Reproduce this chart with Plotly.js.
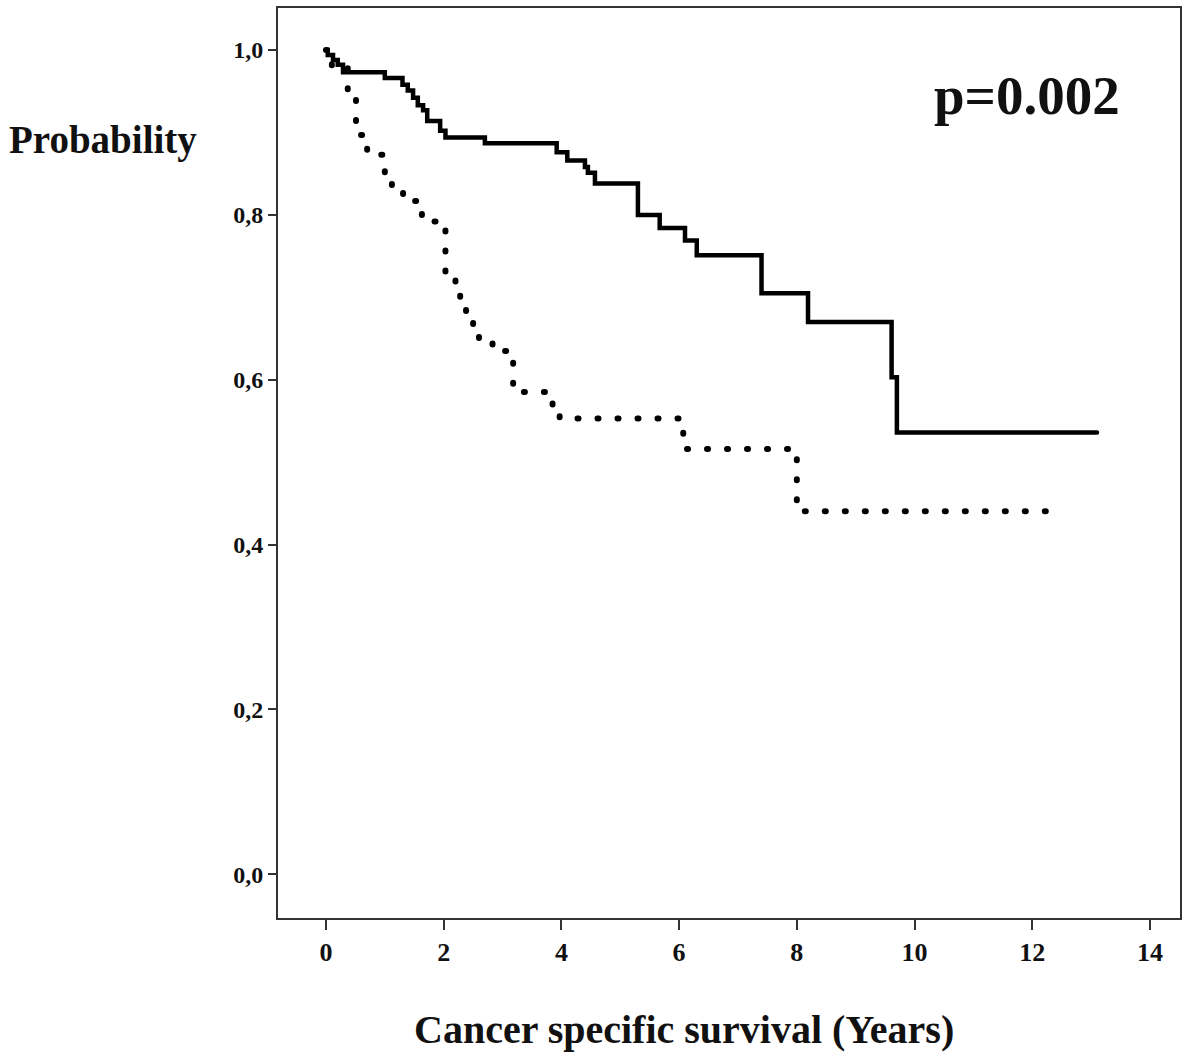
<!DOCTYPE html>
<html>
<head>
<meta charset="utf-8">
<script src="https://cdn.plot.ly/plotly-3.0.1.min.js"></script>
<style>
  html, body { margin: 0; padding: 0; background: #fff; }
  #chart { width: 1200px; height: 1058px; }
  path.js-line { stroke-linecap: round !important; }
</style>
</head>
<body>
<div id="chart"></div>
<script>
// Kaplan-Meier step data (time in years, survival probability)
const solidTime = [0, 0.03, 0.12, 0.2, 0.29, 1.0, 1.3, 1.39, 1.48, 1.56, 1.65, 1.72, 1.94, 2.03, 2.7, 3.92, 4.1, 4.4, 4.45, 4.57, 5.3, 5.67, 6.1, 6.3, 7.4, 8.19, 9.61, 9.70, 13.1];
const solidSurv = [1.0, 0.994, 0.988, 0.982, 0.973, 0.966, 0.958, 0.951, 0.942, 0.933, 0.927, 0.914, 0.902, 0.894, 0.887, 0.876, 0.866, 0.858, 0.851, 0.838, 0.800, 0.784, 0.769, 0.751, 0.705, 0.670, 0.603, 0.536, 0.536];

const dotTime = [0, 0.1, 0.37, 0.51, 0.7, 1.0, 1.12, 1.31, 1.63, 2.03, 2.2, 2.28, 2.38, 2.5, 2.6, 2.83, 3.18, 3.85, 3.97, 6.07, 8.0, 12.25];
const dotSurv = [1.0, 0.978, 0.949, 0.897, 0.873, 0.846, 0.830, 0.817, 0.792, 0.721, 0.705, 0.690, 0.675, 0.660, 0.645, 0.635, 0.585, 0.567, 0.553, 0.516, 0.4405, 0.4405];

const xTicks = [0, 2, 4, 6, 8, 10, 12, 14];
const yTicks = [0, 0.2, 0.4, 0.6, 0.8, 1.0];

const xTitle = 'Cancer specific survival (Years)';
const yTitle = 'Probability';
const pText = 'p=0.002';

const serif = 'Liberation Serif, Times New Roman, serif';

const traces = [
  {
    x: dotTime, y: dotSurv, type: 'scatter', mode: 'lines',
    line: { shape: 'hv', color: '#000', width: 6, dash: '1px,19px' },
    hoverinfo: 'skip', showlegend: false
  },
  {
    x: solidTime, y: solidSurv, type: 'scatter', mode: 'lines',
    line: { shape: 'hv', color: '#000', width: 4.5 },
    hoverinfo: 'skip', showlegend: false
  }
];

const layout = {
  width: 1200, height: 1058,
  margin: { l: 278, r: 20, t: 8, b: 140 },
  paper_bgcolor: '#fff', plot_bgcolor: '#fff',
  separators: ',.',
  showlegend: false,
  xaxis: {
    range: [-0.815, 14.51],
    tickvals: xTicks,
    ticks: 'outside', ticklen: 10, tickwidth: 2, tickcolor: '#333',
    showline: true, linecolor: '#333', linewidth: 2, mirror: true,
    showgrid: false, zeroline: false,
    tickfont: { family: serif, size: 26, color: '#111', weight: 'bold' }
  },
  yaxis: {
    range: [-0.053, 1.051],
    tickvals: yTicks,
    tickformat: '.1f',
    ticks: 'outside', ticklen: 8, tickwidth: 2, tickcolor: '#333',
    showline: true, linecolor: '#333', linewidth: 2, mirror: true,
    showgrid: false, zeroline: false,
    tickfont: { family: serif, size: 24, color: '#111', weight: 'bold' }
  },
  annotations: [
    {
      text: yTitle, xref: 'paper', yref: 'paper', x: -0.194, y: 0.855,
      xanchor: 'center', yanchor: 'middle', showarrow: false,
      font: { family: serif, size: 39, color: '#111', weight: 'bold' }
    },
    {
      text: pText, xref: 'paper', yref: 'paper', x: 0.830, y: 0.904,
      xanchor: 'center', yanchor: 'middle', showarrow: false,
      font: { family: serif, size: 55, color: '#111', weight: 'bold' }
    },
    {
      text: xTitle, xref: 'paper', yref: 'paper', x: 0.45, y: -0.123,
      xanchor: 'center', yanchor: 'middle', showarrow: false,
      font: { family: serif, size: 40, color: '#111', weight: 'bold' }
    }
  ]
};

Plotly.newPlot('chart', traces, layout, { staticPlot: true, displayModeBar: false });
</script>
</body>
</html>
